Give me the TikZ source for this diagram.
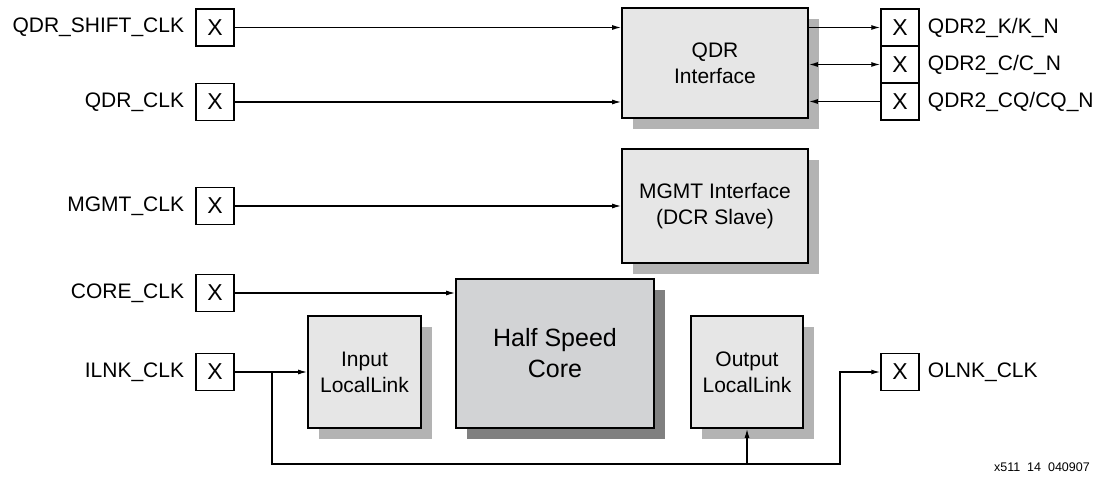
\documentclass[tikz,border=0pt]{standalone}
\usepackage{fontspec}
\setmainfont{Liberation Sans}
\usetikzlibrary{arrows.meta,shadows,calc}
\definecolor{boxfill}{HTML}{E6E6E6}
\definecolor{boxshadow}{HTML}{B3B3B3}
\definecolor{corefill}{HTML}{D2D3D5}
\definecolor{coreshadow}{HTML}{808080}
\tikzset{
  pin box/.style={draw=black, line width=1.5pt, fill=white, minimum width=38pt, minimum height=37pt, inner sep=0pt, font=\fontsize{23}{26}\selectfont},
  lbl/.style={inner sep=0pt, font=\fontsize{21}{26}\selectfont},
  block/.style={draw=black, line width=1.8pt, fill=boxfill, inner sep=0pt, align=center,
     font=\fontsize{21}{26}\selectfont,
     drop shadow={shadow xshift=11pt, shadow yshift=-11pt, fill=boxshadow, opacity=1}},
  coreblock/.style={draw=black, line width=1.8pt, fill=corefill, inner sep=0pt, align=center,
     font=\fontsize{25}{31}\selectfont,
     drop shadow={shadow xshift=11pt, shadow yshift=-11pt, fill=coreshadow, opacity=1}},
  wire/.style={line width=1.2pt},
  arr/.style={wire, -{Latex[length=9pt,width=5pt]}},
  barr/.style={wire, {Latex[length=9pt,width=5pt]}-{Latex[length=9pt,width=5pt]}},
  rarr/.style={wire, {Latex[length=9pt,width=5pt]}-},
}
\begin{document}
\begin{tikzpicture}[x=1pt,y=-1pt]
\useasboundingbox (0,0) rectangle (1109,478);
% blocks
\node[block, minimum width=186pt, minimum height=110pt] (qdr) at (715,63) {QDR\\Interface};
\node[block, minimum width=186pt, minimum height=114pt] (mgmt) at (715,206) {MGMT Interface\\(DCR Slave)};
\node[coreblock, minimum width=198pt, minimum height=149pt] (core) at (555,353.5) {Half Speed\\Core};
\node[block, minimum width=113pt, minimum height=112pt] (inll) at (364.5,372) {Input\\LocalLink};
\node[block, minimum width=112pt, minimum height=112pt] (outll) at (747,372) {Output\\LocalLink};
% left pins
\node[pin box] (xshift) at (215,27.5) {X};
\node[pin box] (xqclk) at (215,102) {X};
\node[pin box] (xmgmt) at (215,206) {X};
\node[pin box] (xcore) at (215,293) {X};
\node[pin box] (xilnk) at (215,372) {X};
\node[lbl, anchor=east] (lshift) at ([xshift=-11pt]xshift.west) {QDR\_SHIFT\_CLK};
\node[lbl, anchor=east] (lqclk) at ([xshift=-11pt]xqclk.west) {QDR\_CLK};
\node[lbl, anchor=east] (lmgmt) at ([xshift=-11pt]xmgmt.west) {MGMT\_CLK};
\node[lbl, anchor=east] (lcore) at ([xshift=-11pt]xcore.west) {CORE\_CLK};
\node[lbl, anchor=east] (lilnk) at ([xshift=-11pt]xilnk.west) {ILNK\_CLK};
% right pins
\node[pin box] (xk) at (900,27.5) {X};
\node[pin box] (xc) at (900,64.5) {X};
\node[pin box] (xcq) at (900,101.5) {X};
\node[pin box] (xolnk) at (900,372) {X};
\node[lbl, anchor=west] (lk) at ([xshift=8pt]xk.east) {QDR2\_K/K\_N};
\node[lbl, anchor=west] (lc) at ([xshift=8pt]xc.east) {QDR2\_C/C\_N};
\node[lbl, anchor=west] (lcq) at ([xshift=8pt]xcq.east) {QDR2\_CQ/CQ\_N};
\node[lbl, anchor=west] (lolnk) at ([xshift=8pt]xolnk.east) {OLNK\_CLK};
% footer
\node[inner sep=0pt, anchor=east, font=\fontsize{12.5}{14}\selectfont] (foot) at (1090,467) {x511\ \ 14\ \ 040907};
% connectors
\draw[arr] (xshift.east) -- (xshift.east -| qdr.west);
\draw[arr] (xqclk.east) -- (xqclk.east -| qdr.west);
\draw[arr] (xmgmt.east) -- (mgmt.west);
\draw[arr] (xcore.east) -- (xcore.east -| core.west);
\draw[arr] (xilnk.east) -- (inll.west);
\draw[arr] (xk.west -| qdr.east) -- (xk.west);
\draw[barr] (xc.west -| qdr.east) -- (xc.west);
\draw[rarr] (xcq.west -| qdr.east) -- (xcq.west);
\coordinate (br) at (272,372);
\coordinate (cr) at (840,464);
\draw[arr] (br) |- (cr) |- (xolnk.west);
\draw[arr] (outll.south |- cr) -- (outll.south);
\end{tikzpicture}
\end{document}
